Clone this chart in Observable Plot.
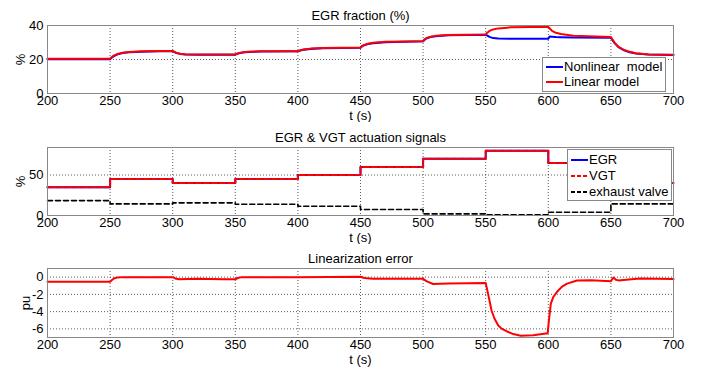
<!DOCTYPE html>
<html><head><meta charset="utf-8">
<script src="https://cdn.jsdelivr.net/npm/d3@7"></script>
<script src="https://cdn.jsdelivr.net/npm/@observablehq/plot@0.6"></script>
<style>
body{margin:0;background:#fff;font-family:"Liberation Sans",Arial,sans-serif;}
#wrap{position:relative;width:707px;height:372px;overflow:hidden;}
.chart{position:absolute;left:0;}
.legend{position:absolute;background:#fff;border:1px solid #888;font-size:13px;box-sizing:border-box;}
.entry{position:absolute;left:2px;height:16px;white-space:pre;}
.entry svg{position:absolute;left:0;top:0;}
.entry span{position:absolute;top:0;line-height:16px;}
</style></head><body><div id="wrap"></div>
<script>
// ---------- Panel 1: EGR fraction (%) ----------
const egrTime = [200,250,251,253,256,260,265,275,290,300,301,303,306,310,320,350,351,353,356,360,370,400,402,405,410,420,450,451,453,456,460,470,500,501,503,506,510,520,550,551,553,556,560,570,600,601,603,606,610,620,650,651,653,656,660,665,670,680,700];
const egrLinear = [20.5,20.5,21.2,22.3,23.3,24.0,24.4,24.8,25.0,25.0,24.6,23.9,23.4,23.1,22.9,22.9,23.3,23.8,24.2,24.5,24.8,24.9,25.5,26.0,26.4,26.8,27.0,27.8,28.6,29.3,29.8,30.4,30.8,31.7,32.7,33.4,33.9,34.4,34.7,35.6,36.8,37.7,38.3,38.9,39.2,38.4,36.8,35.7,35.0,34.0,33.2,32.0,29.8,27.5,25.8,24.5,23.7,23.0,22.8];
const egrNonlinear = [20.2,20.2,20.9,22.0,23.0,23.8,24.2,24.6,24.9,24.9,24.5,23.8,23.3,23.0,22.8,22.8,23.2,23.7,24.1,24.4,24.7,24.8,25.3,25.8,26.2,26.6,26.9,27.6,28.4,29.1,29.6,30.2,30.7,31.5,32.5,33.2,33.7,34.2,34.6,34.2,33.3,32.6,32.3,32.2,32.2,33.5,33.4,33.2,33.1,32.9,32.8,31.7,29.6,27.3,25.6,24.3,23.5,22.9,22.7];

// ---------- Panel 2: EGR & VGT actuation signals ----------
const stepTime = [200,250,300,350,400,450,500,550,600,650,700];
const egrSignal = [35,45,40,45,50,60,70,80,65,40,40];
const vgtSignal = [35,45,40,45,50,60,70,80,65,40,40];
const exhaustValve = [18.4,14.3,15.6,13.9,11.4,7.4,2.0,0.8,4.0,14.3,14.3];

// ---------- Panel 3: Linearization error ----------
const errTime = [200,250,251,253,256,260,300,302,305,320,340,350,352,355,400,450,453,460,500,503,508,520,550,552,554.7,557,560,563,567,572,578,588,599.5,600.5,602,604,607,611,615,623,634,650,652,654,656,673,700];
const errValue = [-0.55,-0.55,-0.4,-0.15,-0.03,0,0,-0.15,-0.25,-0.2,-0.25,-0.25,-0.1,0,0,0.05,-0.1,-0.2,-0.2,-0.5,-0.8,-0.75,-0.67,-2.0,-3.9,-4.8,-5.6,-6.0,-6.3,-6.6,-6.8,-6.75,-6.5,-5.0,-3.1,-2.3,-1.7,-1.1,-0.75,-0.4,-0.35,-0.47,-0.05,-0.3,-0.38,-0.15,-0.23];

const xTicks = [200,250,300,350,400,450,500,550,600,650,700];
const titles = ["EGR fraction (%)", "EGR & VGT actuation signals", "Linearization error"];
const yLabels = ["%", "%", "pu"];
const yTicks1 = [0,20,40];
const yTicks2 = [0,50];
const yTicks3 = [0,-2,-4,-6];

const FONT = "Liberation Sans, Arial, sans-serif";

function panel({title, yDomain, yTicks, yLabel, marks, height, marginTop, marginBottom, yLabelOffset}) {
  return Plot.plot({
    width: 707, height, marginLeft: 47, marginRight: 34, marginTop, marginBottom,
    style: {fontFamily: FONT, fontSize: "13px", color: "#000", background: "#fff", overflow: "visible"},
    x: {domain: [200, 700]},
    y: {domain: yDomain},
    marks: [
      Plot.gridX(xTicks, {stroke: "#333", strokeOpacity: 0.8, strokeDasharray: "1,2"}),
      Plot.gridY(yTicks, {stroke: "#333", strokeOpacity: 0.8, strokeDasharray: "1,2"}),
      ...marks,
      Plot.frame({stroke: "#888"}),
      Plot.axisX(xTicks, {tickSize: 0, tickPadding: 2, tickFormat: d => String(d), label: "t (s)", labelAnchor: "center", labelArrow: "none", labelOffset: 26, fontSize: 13}),
      Plot.axisY(yTicks, {tickSize: 0, tickPadding: 4, tickFormat: d => String(d), label: yLabel, labelAnchor: "center", labelArrow: "none", labelOffset: yLabelOffset, fontSize: 13}),
      Plot.text([title], {text: d => d, frameAnchor: "top", dy: -15, fontSize: 13})
    ]
  });
}

const d1 = egrTime.map((t, i) => ({t, lin: egrLinear[i], non: egrNonlinear[i]}));
const d2 = stepTime.map((t, i) => ({t, egr: egrSignal[i], vgt: vgtSignal[i], ev: exhaustValve[i]}));
const d3 = errTime.map((t, i) => ({t, e: errValue[i]}));

const c1 = panel({
  title: titles[0], yDomain: [0, 40], yTicks: yTicks1, yLabel: yLabels[0],
  height: 122, marginTop: 25, marginBottom: 29, yLabelOffset: 32,
  marks: [
    Plot.line(d1, {x: "t", y: "non", stroke: "#0000ff", strokeWidth: 2}),
    Plot.line(d1, {x: "t", y: "lin", stroke: "#ff0000", strokeWidth: 2})
  ]
});
const c2 = panel({
  title: titles[1], yDomain: [0, 84], yTicks: yTicks2, yLabel: yLabels[1],
  height: 122, marginTop: 25, marginBottom: 29, yLabelOffset: 32,
  marks: [
    Plot.line(d2, {x: "t", y: "egr", stroke: "#0000ff", strokeWidth: 2, curve: "step-after"}),
    Plot.line(d2, {x: "t", y: "vgt", stroke: "#ff0000", strokeWidth: 2, strokeDasharray: "6,2", curve: "step-after"}),
    Plot.line(d2, {x: "t", y: "ev", stroke: "#000", strokeWidth: 1.6, strokeDasharray: "5,3", curve: "step-after"})
  ]
});
const c3 = panel({
  title: titles[2], yDomain: [-7, 1], yTicks: yTicks3, yLabel: yLabels[2],
  height: 128, marginTop: 24, marginBottom: 35, yLabelOffset: 27,
  marks: [
    Plot.line(d3, {x: "t", y: "e", stroke: "#ff0000", strokeWidth: 2})
  ]
});

const wrap = document.getElementById("wrap");
[[c1, 0], [c2, 122], [c3, 244]].forEach(([c, top]) => {
  c.classList.add("chart");
  c.style.top = top + "px";
  wrap.appendChild(c);
});

function legend(left, top, w, h, entries) {
  const L = document.createElement("div");
  L.className = "legend";
  Object.assign(L.style, {left: left + "px", top: top + "px", width: w + "px", height: h + "px"});
  entries.forEach(([label, color, dash, y]) => {
    const e = document.createElement("div");
    e.className = "entry";
    e.style.top = y + "px";
    e.innerHTML = `<svg width="20" height="16"><line x1="1" x2="18" y1="8" y2="8" stroke="${color}" stroke-width="2" ${dash ? `stroke-dasharray="${dash}"` : ""}/></svg><span style="left:19px">${label}</span>`;
    L.appendChild(e);
  });
  wrap.appendChild(L);
}
legend(542, 57, 124, 35, [["Nonlinear  model", "#0000ff", null, 1], ["Linear model", "#ff0000", null, 16]]);
legend(567, 149, 105, 52, [["EGR", "#0000ff", null, 2], ["VGT", "#ff0000", "4,2", 18], ["exhaust valve", "#000", "4,2", 34]]);
</script></body></html>
